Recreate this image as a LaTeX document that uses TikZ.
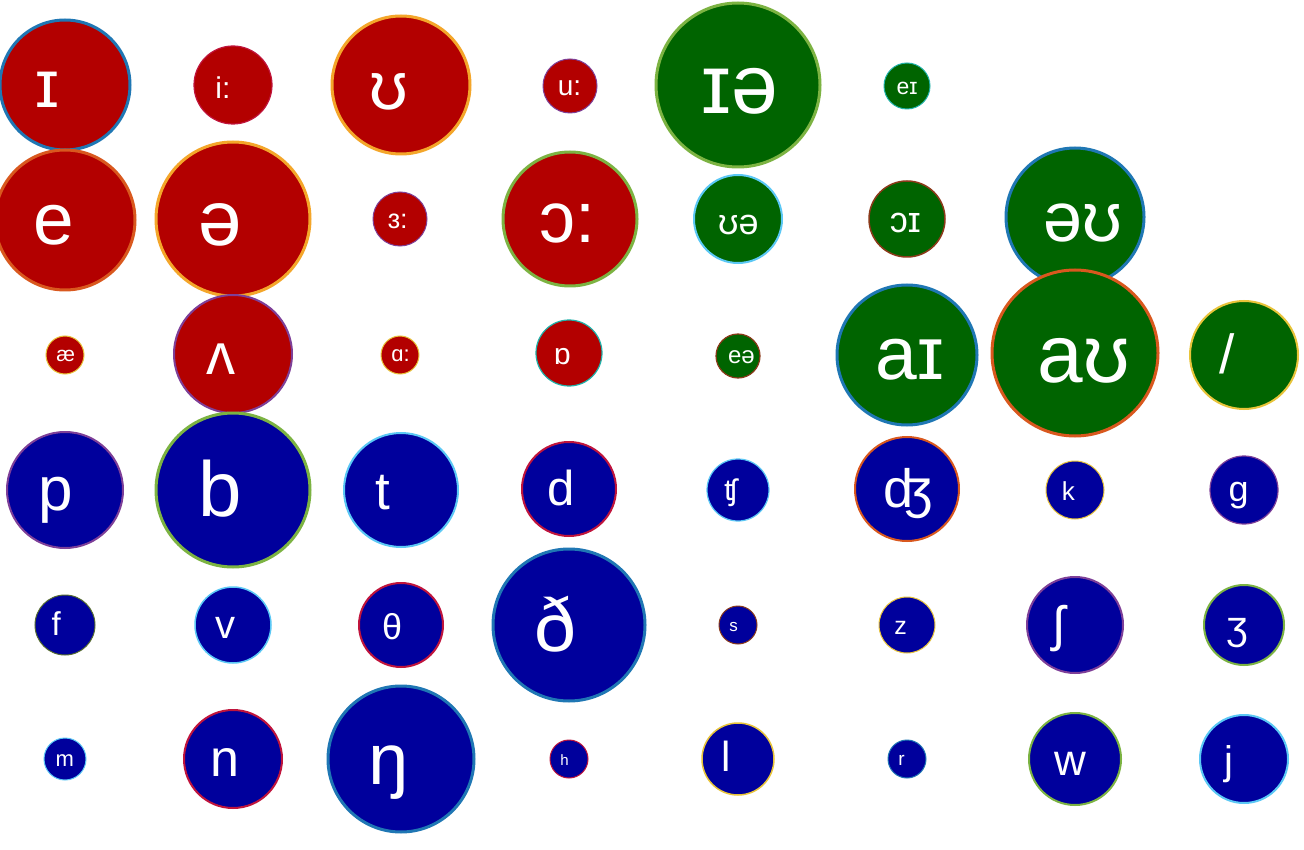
\documentclass[tikz,border=0pt]{standalone}
\usepackage{fontspec}
\setmainfont{Liberation Sans}
\definecolor{redfill}{HTML}{B30000}
\definecolor{greenfill}{HTML}{006400}
\definecolor{bluefill}{HTML}{00009C}
\definecolor{bblue}{HTML}{1F77B4}
\definecolor{borange}{HTML}{F4A62A}
\definecolor{bgreen}{HTML}{7CB342}
\definecolor{borred}{HTML}{D9581E}
\definecolor{bpurple}{HTML}{7E3F98}
\definecolor{blightblue}{HTML}{5BC8F5}
\definecolor{bred}{HTML}{C0143C}
\definecolor{bbrown}{HTML}{8B3A1A}
\definecolor{byellow}{HTML}{E8C43A}
\definecolor{bteal}{HTML}{20B2AA}
\definecolor{bdkgreen}{HTML}{556B2F}
\tikzset{
  bubble/.style={circle, inner sep=0pt, outer sep=0pt},
  lbl/.style={text=white, anchor=base west, inner sep=0pt, outer sep=0pt}
}
% name, cx, cy, r, fill, border, text, font size, line width
\newcommand\bub[9]{%
  \node[bubble, fill=#5, draw=#6, line width=#9pt, minimum size={2*#4pt}] (#1) at (#2,#3) {};
  \node[lbl, font={\fontsize{#8}{#8}\selectfont}] (#1-t) at ({#2-0.45*#4},{#3+0.35*#4}) {#7};
}
\begin{document}
\begin{tikzpicture}[x=1pt,y=-1pt]
\path[fill=white,use as bounding box] (0,0) rectangle (1304,850);
% row 1
\bub{i1}{65}{85}{65}{redfill}{bblue}{ɪ}{67}{3}
\bub{i2}{233}{85}{39}{redfill}{bred}{i:}{30}{1.2}
\bub{u1}{401}{85}{69}{redfill}{borange}{ʊ}{68}{3}
\bub{u2}{570}{86}{27}{redfill}{bpurple}{u:}{28}{1}
\bub{ie}{738}{85}{82}{greenfill}{bgreen}{ɪə}{84}{3}
\bub{ei}{907}{86}{23}{greenfill}{bteal}{eɪ}{23}{1}
% row 2
\bub{e}{65}{220}{70}{redfill}{borred}{e}{73}{3}
\bub{schwa}{233}{219}{77}{redfill}{borange}{ə}{78}{3}
\bub{er}{400}{219}{27}{redfill}{bpurple}{ɜ:}{27}{1}
\bub{or}{570}{219}{67}{redfill}{bgreen}{ɔ:}{72}{3}
\bub{ua}{738}{219}{44}{greenfill}{blightblue}{ʊə}{36}{2}
\bub{oi}{907}{219}{38}{greenfill}{bbrown}{ɔɪ}{36}{1.5}
\bub{ou}{1075}{217}{69}{greenfill}{bblue}{əʊ}{70}{3}
% row 3
\bub{ae}{65}{355}{19}{redfill}{byellow}{æ}{21}{1}
\bub{wedge}{233}{354}{59}{redfill}{bpurple}{ʌ}{58}{2}
\bub{ar}{400}{355}{19}{redfill}{byellow}{ɑ:}{22}{1}
\bub{o}{569}{353}{33}{redfill}{bteal}{ɒ}{30}{1.2}
\bub{ea}{738}{356}{22}{greenfill}{bbrown}{eə}{24}{1.2}
\bub{ai}{907}{355}{70}{greenfill}{bblue}{aɪ}{75}{3}
\bub{au}{1075}{353}{83}{greenfill}{borred}{aʊ}{82}{3}
\bub{slash}{1244}{355}{54}{greenfill}{byellow}{/}{55}{2}
% row 4
\bub{p}{65}{490}{58}{bluefill}{bpurple}{p}{62}{2}
\bub{b}{233}{490}{77}{bluefill}{bgreen}{b}{78}{3}
\bub{t}{401}{490}{57}{bluefill}{blightblue}{t}{53}{2}
\bub{d}{569}{489}{47}{bluefill}{bred}{d}{49}{2}
\bub{tsh}{738}{490}{31}{bluefill}{blightblue}{ʧ}{30}{1.2}
\bub{dzh}{907}{489}{52}{bluefill}{borred}{ʤ}{54}{2}
\bub{k}{1075}{490}{29}{bluefill}{byellow}{k}{26}{1}
\bub{g}{1244}{490}{34}{bluefill}{bpurple}{g}{36}{1.2}
% row 5
\bub{f}{65}{625}{30}{bluefill}{bdkgreen}{f}{33}{1}
\bub{v}{233}{625}{38}{bluefill}{blightblue}{v}{40}{1.5}
\bub{th}{401}{625}{42}{bluefill}{bred}{θ}{36}{2}
\bub{dh}{569}{625}{76}{bluefill}{bblue}{ð}{75}{3}
\bub{s}{738}{625}{19}{bluefill}{bbrown}{s}{17}{1}
\bub{z}{907}{625}{28}{bluefill}{byellow}{z}{25}{1}
\bub{sh}{1075}{625}{48}{bluefill}{bpurple}{ʃ}{50}{2}
\bub{zh}{1244}{625}{40}{bluefill}{bgreen}{ʒ}{40}{2}
% row 6
\bub{m}{65}{759}{21}{bluefill}{blightblue}{m}{22}{1}
\bub{n}{233}{759}{49}{bluefill}{bred}{n}{52}{2}
\bub{ng}{401}{759}{73}{bluefill}{bblue}{ŋ}{72}{3}
\bub{h}{569}{759}{19}{bluefill}{bred}{h}{15}{1}
\bub{l}{738}{759}{36}{bluefill}{byellow}{l}{42}{1.5}
\bub{r}{907}{759}{19}{bluefill}{bblue}{r}{19}{1}
\bub{w}{1075}{759}{46}{bluefill}{bgreen}{w}{44}{2}
\bub{j}{1244}{759}{44}{bluefill}{blightblue}{j}{40}{2}
\end{tikzpicture}
\end{document}
